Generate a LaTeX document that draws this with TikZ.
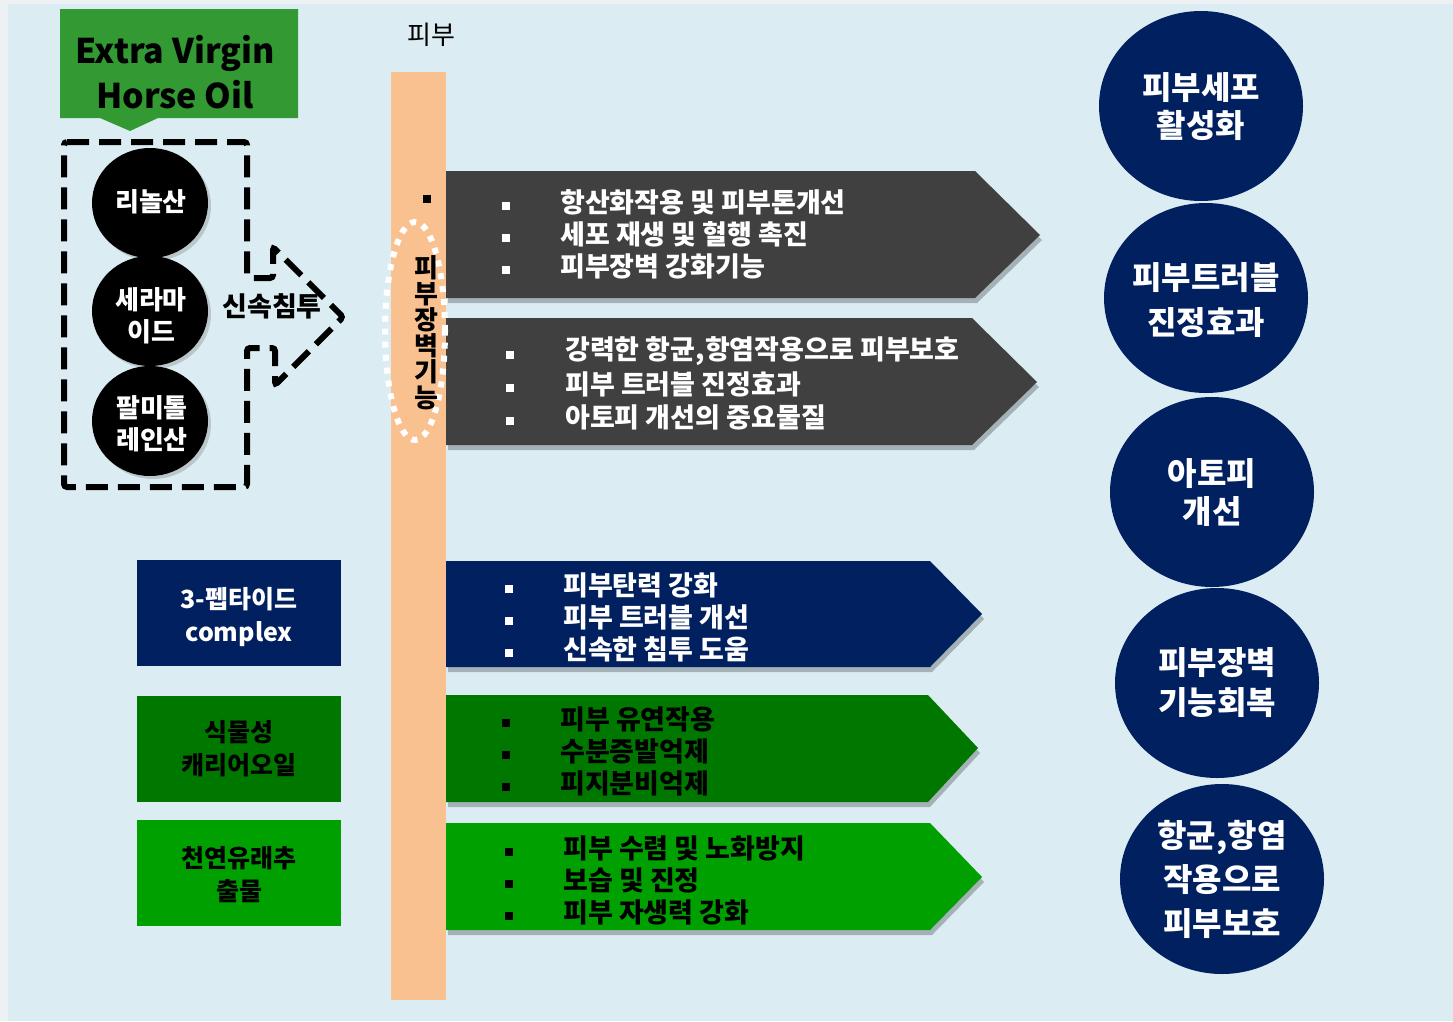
\documentclass[tikz,border=0pt]{standalone}
\usepackage{fontspec}
\setmainfont{Noto Sans CJK KR}
\usetikzlibrary{shapes.geometric,shadows}
\definecolor{bgblue}{HTML}{DBEDF3}
\definecolor{outer}{HTML}{EEF1F3}
\definecolor{peach}{HTML}{F9C190}
\definecolor{dgray}{HTML}{404040}
\definecolor{navy}{HTML}{012060}
\definecolor{dgreen}{HTML}{007800}
\definecolor{bgreen}{HTML}{00A000}
\definecolor{evgreen}{HTML}{339933}
\tikzset{
  itm/.style={anchor=west,inner sep=0pt,font=\bfseries\fontsize{27}{30}\selectfont},
  arrshadow/.style={drop shadow={shadow xshift=2pt,shadow yshift=-5pt,opacity=0.25,fill=black}},
  blackcirc/.style={ellipse,fill=black,minimum width=116pt,minimum height=110pt,inner sep=0pt,drop shadow={shadow xshift=3pt,shadow yshift=-3pt,opacity=0.35}},
  ctext/.style={inner sep=0pt,text=white,align=center,font=\bfseries\fontsize{26}{32}\selectfont},
  navycirc/.style={ellipse,fill=navy,minimum width=204pt,minimum height=190pt,inner sep=0pt},
  rtext/.style={inner sep=0pt,text=white,align=center,font=\bfseries\fontsize{32}{40}\selectfont},
  lbox/.style={rectangle,minimum width=204pt,minimum height=106pt,inner sep=0pt},
  ltext/.style={inner sep=0pt,align=center,font=\bfseries\fontsize{25}{33}\selectfont},
  dashline/.style={line width=6pt,dash pattern=on 22pt off 10pt,rounded corners=3pt},
}
\begin{document}
\begin{tikzpicture}[x=1pt,y=-1pt]
\useasboundingbox (0,0) rectangle (1453,1021);
\fill[outer] (0,0) rectangle (1453,1021);
\fill[bgblue] (8,4) rectangle (1453,1021);

% Extra Virgin Horse Oil
\fill[evgreen] (60,9) -- (298,9) -- (298,118) -- (158,118) -- (130,131) -- (100,118) -- (60,118) -- cycle;
\node[align=center,font=\bfseries\fontsize{34}{45}\selectfont,inner sep=0pt] (evho) at (175,72) {Extra Virgin\\Horse Oil};

% dashed outline with arrow
\draw[dashline] (64,142) -- (247,142) -- (247,278) -- (273,278) -- (273,247) -- (343,317) -- (275,385) -- (275,348) -- (247,348) -- (247,487) -- (64,487) -- cycle;
\node[font=\bfseries\fontsize{27}{30}\selectfont,inner sep=0pt] (sinsok) at (272,306) {신속침투};

% black circles
\node[blackcirc] (c1) at (150,203) {};
\node[blackcirc] (c2) at (150,311) {};
\node[blackcirc] (c3) at (150,421) {};
\node[ctext] (c1t) at (151,202) {리놀산};
\node[ctext] (c2t) at (151,316) {세라마\\이드};
\node[ctext] (c3t) at (152,424) {팔미톨\\레인산};

% skin label and bar
\node[font=\fontsize{26}{30}\selectfont,inner sep=0pt] (pibu) at (431,35) {피부};
\fill[peach] (391,72) rectangle (446,1000);

% dark gray arrows
\fill[dgray,arrshadow] (446,171) -- (975,171) -- (1040,235) -- (975,298) -- (446,298) -- cycle;
\fill[dgray,arrshadow] (446,318) -- (972,318) -- (1037,382) -- (972,445) -- (446,445) -- cycle;
% navy / green arrows
\fill[navy,arrshadow] (446,561) -- (930,561) -- (982,614) -- (930,667) -- (446,667) -- cycle;
\fill[dgreen,arrshadow] (446,695) -- (928,695) -- (978,748) -- (928,802) -- (446,802) -- cycle;
\fill[bgreen,arrshadow] (446,823) -- (930,823) -- (982,877) -- (930,930) -- (446,930) -- cycle;

% small square and dotted ellipse on bar
\fill[black] (423,195) rectangle (431,203);
\draw[white,line width=6pt,dash pattern=on 6pt off 7pt] (415,331) ellipse [x radius=30pt,y radius=109pt];
\node[font=\bfseries\fontsize{26}{26}\selectfont,align=center,inner sep=0pt] (wall) at (426,333) {피\\부\\장\\벽\\기\\능};

% arrow texts
\foreach \t [count=\i] in {항산화작용 및 피부톤개선,세포 재생 및 혈행 촉진,피부장벽 강화기능}{
  \fill[white] (502,170+32*\i) rectangle (510,178+32*\i);
  \node[itm,text=white] (a1t\i) at (560,170+32*\i) {\t};
}
\foreach \t [count=\i] in {{강력한 항균,항염작용으로 피부보호},피부 트러블 진정효과,아토피 개선의 중요물질}{
  \fill[white] (506,318+33*\i) rectangle (514,326+33*\i);
  \node[itm,text=white] (a2t\i) at (565,318+33*\i) {\t};
}
\foreach \t [count=\i] in {피부탄력 강화,피부 트러블 개선,신속한 침투 도움}{
  \fill[white] (505,553+32*\i) rectangle (513,561+32*\i);
  \node[itm,text=white] (a3t\i) at (563,553+32*\i) {\t};
}
\foreach \t [count=\i] in {피부 유연작용,수분증발억제,피지분비억제}{
  \fill[black] (502,687+32*\i) rectangle (510,695+32*\i);
  \node[itm,text=black] (a4t\i) at (560,687+32*\i) {\t};
}
\foreach \t [count=\i] in {피부 수렴 및 노화방지,보습 및 진정,피부 자생력 강화}{
  \fill[black] (505,816+32*\i) rectangle (513,824+32*\i);
  \node[itm,text=black] (a5t\i) at (563,816+32*\i) {\t};
}

% left boxes
\node[lbox,fill=navy] (b1) at (239,613) {};
\node[lbox,fill=dgreen] (b2) at (239,749) {};
\node[lbox,fill=bgreen] (b3) at (239,873) {};
\node[ltext,text=white] (b1t) at (239,617) {3-펩타이드\\complex};
\node[ltext,text=black] (b2t) at (239,749) {식물성\\캐리어오일};
\node[ltext,text=black] (b3t) at (239,875) {천연유래추\\출물};

% right circles
\node[navycirc] (r1) at (1201,106) {};
\node[navycirc] (r2) at (1206,298) {};
\node[navycirc] (r3) at (1212,492) {};
\node[navycirc] (r4) at (1217,683) {};
\node[navycirc] (r5) at (1222,879) {};
\node[rtext,font=\bfseries\fontsize{32}{38}\selectfont] (r1t) at (1201,107) {피부세포\\활성화};
\node[rtext,font=\bfseries\fontsize{32}{45}\selectfont] (r2t) at (1206,300) {피부트러블\\진정효과};
\node[rtext,font=\bfseries\fontsize{32}{38}\selectfont] (r3t) at (1212,493) {아토피\\개선};
\node[rtext,font=\bfseries\fontsize{32}{40}\selectfont] (r4t) at (1217,683) {피부장벽\\기능회복};
\node[rtext,font=\bfseries\fontsize{32}{44}\selectfont] (r5t) at (1222,879) {항균,항염\\작용으로\\피부보호};
\end{tikzpicture}
\end{document}
